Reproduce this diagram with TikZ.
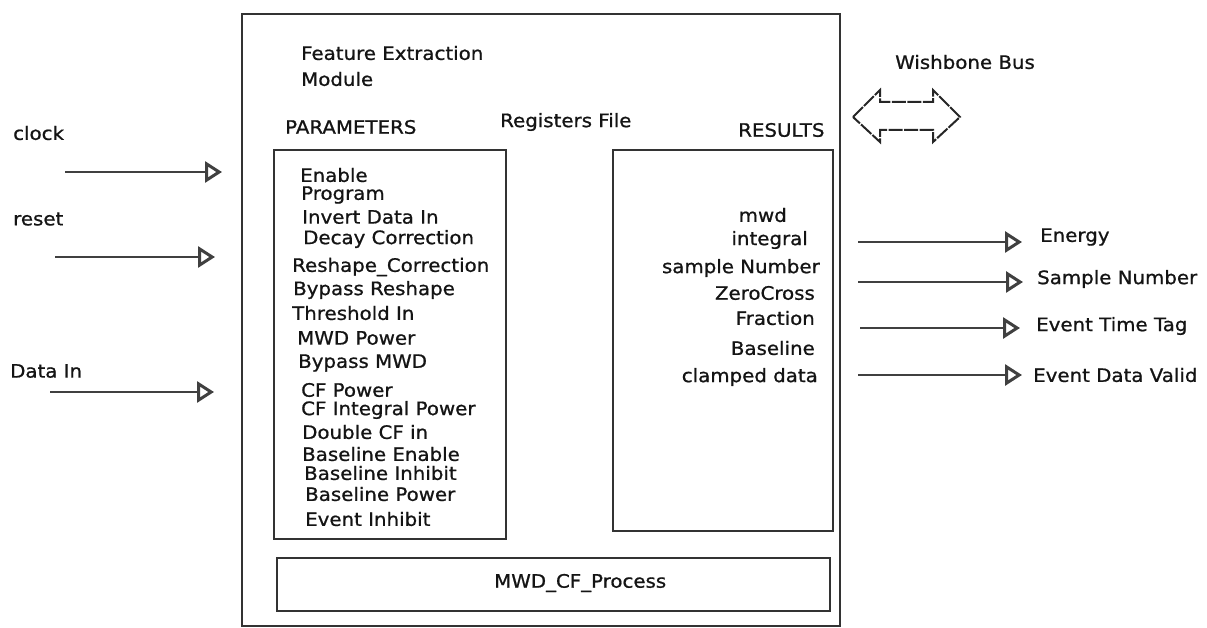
\documentclass[tikz,border=0pt]{standalone}
\usepackage{fontspec}
\setmainfont{DejaVu Sans}[FakeStretch=1.07, FakeBold=0.9]
\usetikzlibrary{arrows.meta}

\begin{document}
\begin{tikzpicture}[x=1pt,y=-1pt,
  every node/.style={inner sep=0pt, font=\fontsize{18.5}{22}\selectfont, text=black!92},
  lbl/.style={anchor=west},
  rlbl/.style={anchor=east},
  frame/.style={draw=black!80, line width=2pt},
  sig/.style={draw=black!75, line width=2.4pt,
    -{Triangle[open, length=17pt, width=21pt, line width=3pt]}},
  bus/.style={draw=black!85, line width=2pt, dash pattern=on 14pt off 1.5pt}
]
\useasboundingbox (0,0) rectangle (1207,628);

% module outline and inner blocks
\draw[frame] (242,14) rectangle (840,626);
\draw[frame] (274,150) rectangle (506,539);
\draw[frame] (613,150) rectangle (833,531);
\node[frame, draw, minimum width=553pt, minimum height=53pt, anchor=north west] (proc) at (276,557) {};
\node[lbl] (proclbl) at (494,583) {MWD\_CF\_Process};

% titles
\node[lbl] (title1) at (301,53) {Feature Extraction};
\node[lbl] (title2) at (301,79) {Module};
\node[lbl] (params) at (285,127) {PARAMETERS};
\node[lbl] (regs) at (500,122) {Registers File};
\node[lbl] (results) at (738,130) {RESULTS};
\node[lbl] (wb) at (895,62) {Wishbone Bus};

% parameter registers
\node[lbl] (p1) at (300,175) {Enable};
\node[lbl] (p2) at (301,195) {Program};
\node[lbl] (p3) at (302,217) {Invert Data In};
\node[lbl] (p4) at (303,239) {Decay Correction};
\node[lbl] (p5) at (292,267) {Reshape\_Correction};
\node[lbl] (p6) at (293,290) {Bypass Reshape};
\node[lbl] (p7) at (292,313) {Threshold In};
\node[lbl] (p8) at (297,338) {MWD Power};
\node[lbl] (p9) at (298,363) {Bypass MWD};
\node[lbl] (p10) at (301,390) {CF Power};
\node[lbl] (p11) at (301,410) {CF Integral Power};
\node[lbl] (p12) at (302,432) {Double CF in};
\node[lbl] (p13) at (302,454) {Baseline Enable};
\node[lbl] (p14) at (304,473) {Baseline Inhibit};
\node[lbl] (p15) at (305,494) {Baseline Power};
\node[lbl] (p16) at (305,519) {Event Inhibit};

% result registers
\node[rlbl] (r1) at (787,215) {mwd};
\node[rlbl] (r2) at (808,240) {integral};
\node[rlbl] (r3) at (820,268) {sample Number};
\node[rlbl] (r4) at (815,293) {ZeroCross};
\node[rlbl] (r5) at (815,318) {Fraction};
\node[rlbl] (r6) at (815,348) {Baseline};
\node[rlbl] (r7) at (818,377) {clamped data};

% Wishbone bus double arrow
\draw[bus] (853,117) -- (880,90) -- (880,102) -- (933,102) -- (933,90) -- (960,117)
  -- (933,142) -- (933,130) -- (880,130) -- (880,142) -- cycle;

% input signals
\node[lbl] (clk) at (13,133) {clock};
\node[lbl] (rst) at (13,219) {reset};
\node[lbl] (din) at (10,371) {Data In};
\coordinate (clkA) at (65,172);   \coordinate (clkB) at (222,172);
\coordinate (rstA) at (55,257);   \coordinate (rstB) at (215,257);
\coordinate (dinA) at (50,392);   \coordinate (dinB) at (214,392);
\draw[sig] (clkA) -- (clkB);
\draw[sig] (rstA) -- (rstB);
\draw[sig] (dinA) -- (dinB);

% output signals
\node[lbl] (en) at (1040,237) {Energy};
\node[lbl] (sn) at (1037,279) {Sample Number};
\node[lbl] (ett) at (1036,326) {Event Time Tag};
\node[lbl] (edv) at (1033,375) {Event Data Valid};
\coordinate (enA) at (858,242);   \coordinate (enB) at (1022,242);
\coordinate (snA) at (858,282);   \coordinate (snB) at (1023,282);
\coordinate (ettA) at (860,328);  \coordinate (ettB) at (1020,328);
\coordinate (edvA) at (858,375);  \coordinate (edvB) at (1022,375);
\draw[sig] (enA) -- (enB);
\draw[sig] (snA) -- (snB);
\draw[sig] (ettA) -- (ettB);
\draw[sig] (edvA) -- (edvB);
\end{tikzpicture}
\end{document}
